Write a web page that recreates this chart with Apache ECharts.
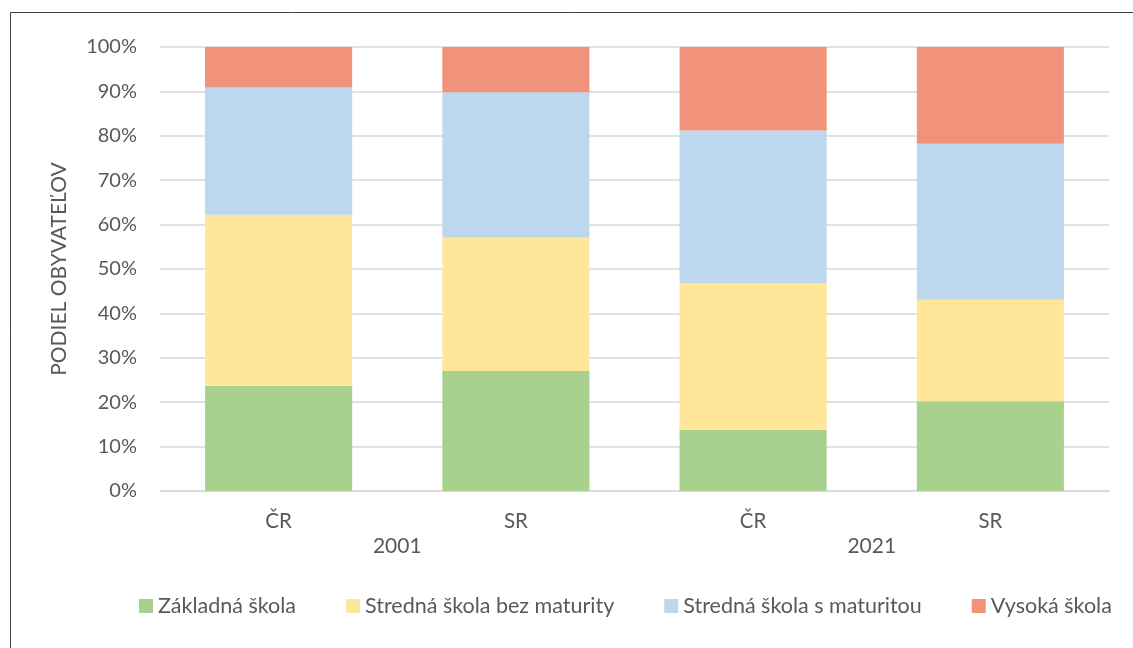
<!DOCTYPE html>
<html>
<head>
<meta charset="utf-8">
<script src="https://cdn.jsdelivr.net/npm/echarts@6/dist/echarts.min.js"></script>
<style>
  html, body { margin: 0; padding: 0; background: #fff; }
  #chart { width: 1133px; height: 648px; }
</style>
</head>
<body>
<div id="chart"></div>
<script>
// kategórie a hodnoty (%)
const countries = ['ČR', 'SR', 'ČR', 'SR']
const years = ['2001', '2021']
const seriesNames = ['Základná škola', 'Stredná škola bez maturity', 'Stredná škola s maturitou', 'Vysoká škola']
const zakladna = [23.7, 27.0, 13.8, 20.2]
const bezMaturity = [38.5, 30.1, 33.0, 22.9]
const sMaturitou = [28.7, 32.7, 34.4, 35.1]
const vysoka = [9.1, 10.2, 18.8, 21.8]
const colors = ['#A9D18E', '#FFE699', '#BDD7EE', '#F0937A']

const font = 'Lato, "Open Sans", sans-serif'
const textColor = '#595959'

const chart = echarts.init(document.getElementById('chart'))

const values = [zakladna, bezMaturity, sMaturitou, vysoka]
const series = seriesNames.map((name, i) => ({
  name: name,
  type: 'bar',
  stack: 'total',
  barCategoryGap: '38%',
  xAxisIndex: 0,
  data: values[i],
  itemStyle: { color: colors[i] },
  emphasis: { disabled: true }
}))

chart.setOption({
  animation: false,
  textStyle: { fontFamily: font },
  graphic: [{
    type: 'rect',
    shape: { x: 10.5, y: 12.5, width: 1200, height: 700 },
    style: { fill: 'none', stroke: '#404040', lineWidth: 1 },
    silent: true
  }],
  grid: { left: 160, right: 24, top: 47, bottom: 157 },
  legend: {
    bottom: 26,
    left: 134,
    itemWidth: 14,
    itemHeight: 14,
    itemGap: 50,
    icon: 'rect',
    textStyle: { fontSize: 21.5, color: textColor, fontFamily: font },
    data: seriesNames
  },
  xAxis: [{
    type: 'category',
    data: countries,
    axisLine: { show: true, lineStyle: { color: '#D9D9D9', width: 1.5 } },
    axisTick: { show: false },
    axisLabel: { fontSize: 20.5, color: textColor, margin: 20 }
  }, {
    type: 'category',
    data: years,
    position: 'bottom',
    axisLine: { show: false },
    axisTick: { show: false },
    axisLabel: { fontSize: 21, color: textColor, margin: 45 }
  }],
  yAxis: {
    type: 'value',
    min: 0,
    max: 100,
    interval: 10,
    name: 'PODIEL OBYVATEĽOV',
    nameLocation: 'middle',
    nameGap: 90,
    nameTextStyle: { fontSize: 21, color: textColor },
    axisLabel: { formatter: '{value}%', fontSize: 20, color: textColor, margin: 23 },
    axisLine: { show: false },
    axisTick: { show: false },
    splitLine: { lineStyle: { color: '#D9D9D9', width: 1.5 } }
  },
  series: series
})
</script>
</body>
</html>
